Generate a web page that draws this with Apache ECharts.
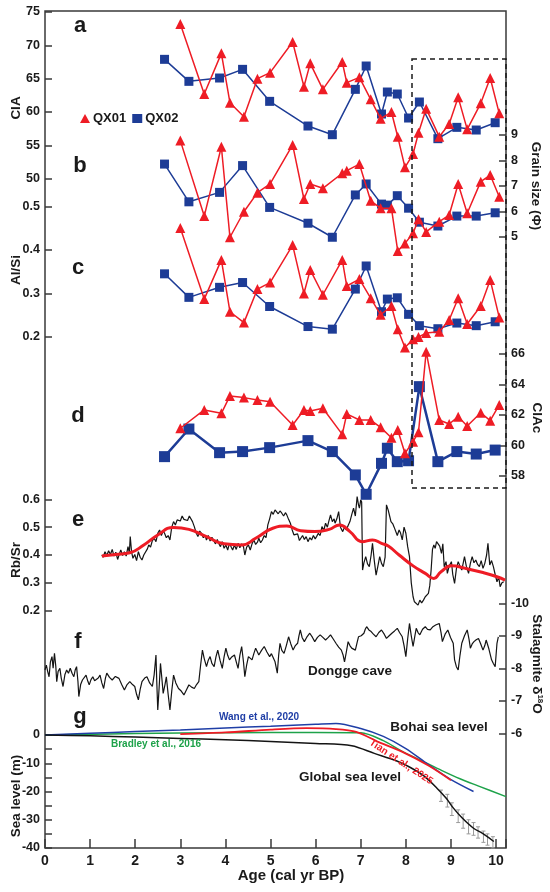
<!DOCTYPE html>
<html lang="en">
<head>
<meta charset="UTF-8">
<title>Holocene proxy records</title>
<script src="https://cdn.jsdelivr.net/npm/echarts@6/dist/echarts.min.js"></script>
<style>
  html, body { margin: 0; padding: 0; background: #fff; }
</style>
</head>
<body>
<div id="main" style="width:550px;height:892px;"></div>
<script>
// sample ages (cal kyr BP) of the two cores
var ageQX01 = [3.00, 3.53, 3.91, 4.10, 4.41, 4.71, 4.99, 5.49, 5.74, 5.88, 6.16, 6.59, 6.69, 6.97, 7.22, 7.44, 7.68, 7.82, 7.98, 8.16, 8.28, 8.45, 8.74, 8.96, 9.16, 9.36, 9.66, 9.87, 10.07];
var ageQX02 = [2.65, 3.19, 3.87, 4.38, 4.98, 5.83, 6.37, 6.88, 7.12, 7.46, 7.59, 7.81, 8.06, 8.30, 8.71, 9.13, 9.56, 9.98];

// a: CIA
var ciaQX01 = [73.2, 62.7, 68.8, 61.4, 59.3, 65.0, 65.9, 70.5, 63.8, 67.3, 63.4, 67.5, 64.4, 65.2, 61.9, 59.0, 60.0, 56.3, 51.7, 53.7, 56.9, 60.5, 56.3, 58.2, 62.2, 57.4, 61.3, 65.1, 59.8];
var ciaQX02 = [67.9, 64.6, 65.1, 66.4, 61.6, 57.9, 56.6, 63.4, 66.9, 59.7, 63.0, 62.7, 59.1, 61.5, 56.0, 57.7, 57.3, 58.4];
// b: grain size (phi)
var grainQX01 = [8.78, 5.82, 8.54, 4.99, 5.99, 6.74, 7.08, 8.61, 6.49, 7.08, 6.91, 7.50, 7.60, 7.86, 6.42, 6.13, 6.13, 4.45, 4.75, 5.15, 5.70, 5.20, 5.60, 5.86, 7.08, 5.93, 7.17, 7.43, 6.58];
var grainQX02 = [7.86, 6.38, 6.75, 7.80, 6.16, 5.54, 4.99, 6.65, 7.08, 6.29, 6.25, 6.62, 6.13, 5.58, 5.43, 5.82, 5.82, 5.95];
// c: Al/Si
var alsiQX01 = [0.450, 0.287, 0.377, 0.258, 0.233, 0.310, 0.325, 0.411, 0.300, 0.354, 0.297, 0.377, 0.317, 0.333, 0.289, 0.251, 0.271, 0.218, 0.176, 0.195, 0.200, 0.209, 0.212, 0.239, 0.289, 0.230, 0.271, 0.331, 0.245];
var alsiQX02 = [0.345, 0.291, 0.314, 0.325, 0.270, 0.224, 0.218, 0.310, 0.363, 0.258, 0.287, 0.290, 0.252, 0.226, 0.219, 0.232, 0.226, 0.235];
// d: CIAc
var ciacQX01 = [61.13, 62.33, 62.11, 63.25, 63.14, 62.98, 62.87, 61.34, 62.33, 62.26, 62.44, 60.73, 62.07, 61.67, 61.67, 61.19, 60.51, 61.02, 59.49, 60.25, 60.87, 66.15, 61.67, 61.41, 61.89, 61.28, 62.15, 61.63, 62.66];
var ciacQX02 = [59.27, 61.08, 59.53, 59.60, 59.86, 60.32, 59.60, 58.07, 56.80, 58.83, 59.82, 58.94, 59.00, 63.86, 58.94, 59.60, 59.44, 59.70];

// e: Rb/Sr
var rbsrAge = [1.26, 1.29, 1.33, 1.37, 1.41, 1.45, 1.49, 1.53, 1.57, 1.61, 1.65, 1.68, 1.72, 1.76, 1.80, 1.84, 1.87, 1.89, 1.92, 1.95, 1.99, 2.03, 2.07, 2.11, 2.15, 2.19, 2.23, 2.27, 2.30, 2.34, 2.38, 2.42, 2.46, 2.50, 2.54, 2.58, 2.62, 2.65, 2.69, 2.73, 2.77, 2.81, 2.85, 2.89, 2.93, 2.96, 3.00, 3.04, 3.08, 3.12, 3.16, 3.20, 3.23, 3.27, 3.31, 3.35, 3.39, 3.43, 3.47, 3.51, 3.55, 3.58, 3.62, 3.66, 3.70, 3.74, 3.78, 3.82, 3.85, 3.89, 3.93, 3.97, 4.01, 4.05, 4.09, 4.13, 4.16, 4.20, 4.24, 4.28, 4.32, 4.36, 4.40, 4.43, 4.47, 4.51, 4.55, 4.59, 4.63, 4.67, 4.71, 4.74, 4.78, 4.82, 4.86, 4.90, 4.94, 4.98, 5.02, 5.06, 5.10, 5.13, 5.17, 5.21, 5.25, 5.29, 5.33, 5.36, 5.40, 5.44, 5.48, 5.52, 5.56, 5.60, 5.64, 5.67, 5.71, 5.75, 5.79, 5.83, 5.87, 5.91, 5.95, 5.99, 6.02, 6.06, 6.10, 6.14, 6.18, 6.22, 6.26, 6.29, 6.33, 6.37, 6.41, 6.43, 6.47, 6.51, 6.55, 6.60, 6.64, 6.68, 6.72, 6.76, 6.80, 6.84, 6.88, 6.92, 6.95, 6.97, 7.00, 7.02, 7.04, 7.07, 7.11, 7.15, 7.19, 7.23, 7.26, 7.30, 7.34, 7.38, 7.42, 7.46, 7.50, 7.54, 7.57, 7.61, 7.64, 7.67, 7.71, 7.74, 7.77, 7.81, 7.85, 7.88, 7.92, 7.96, 8.00, 8.04, 8.08, 8.12, 8.16, 8.19, 8.23, 8.27, 8.31, 8.35, 8.39, 8.43, 8.47, 8.50, 8.53, 8.56, 8.59, 8.62, 8.65, 8.68, 8.71, 8.75, 8.79, 8.82, 8.85, 8.89, 8.92, 8.96, 9.01, 9.04, 9.08, 9.12, 9.16, 9.20, 9.24, 9.27, 9.30, 9.34, 9.39, 9.43, 9.47, 9.51, 9.55, 9.59, 9.63, 9.67, 9.71, 9.75, 9.79, 9.82, 9.86, 9.90, 9.94, 9.98, 10.02, 10.06, 10.09, 10.13, 10.17];
var rbsrVal = [0.400, 0.392, 0.412, 0.398, 0.415, 0.402, 0.420, 0.396, 0.410, 0.384, 0.405, 0.418, 0.398, 0.412, 0.396, 0.430, 0.408, 0.466, 0.410, 0.388, 0.402, 0.380, 0.412, 0.392, 0.382, 0.400, 0.406, 0.422, 0.436, 0.428, 0.452, 0.460, 0.448, 0.478, 0.490, 0.470, 0.486, 0.478, 0.462, 0.470, 0.454, 0.500, 0.520, 0.508, 0.526, 0.532, 0.522, 0.540, 0.528, 0.535, 0.524, 0.540, 0.538, 0.520, 0.502, 0.480, 0.466, 0.486, 0.478, 0.462, 0.470, 0.454, 0.470, 0.450, 0.464, 0.460, 0.440, 0.456, 0.442, 0.430, 0.448, 0.424, 0.436, 0.418, 0.442, 0.428, 0.418, 0.436, 0.420, 0.442, 0.426, 0.440, 0.430, 0.400, 0.428, 0.436, 0.418, 0.440, 0.454, 0.438, 0.446, 0.460, 0.444, 0.454, 0.470, 0.462, 0.508, 0.530, 0.556, 0.546, 0.562, 0.559, 0.548, 0.558, 0.550, 0.540, 0.552, 0.544, 0.528, 0.514, 0.490, 0.472, 0.466, 0.476, 0.452, 0.454, 0.470, 0.456, 0.466, 0.448, 0.462, 0.454, 0.470, 0.458, 0.466, 0.478, 0.470, 0.502, 0.488, 0.514, 0.500, 0.520, 0.544, 0.520, 0.530, 0.514, 0.530, 0.556, 0.500, 0.484, 0.500, 0.490, 0.506, 0.520, 0.545, 0.568, 0.540, 0.610, 0.580, 0.568, 0.598, 0.590, 0.346, 0.372, 0.394, 0.368, 0.358, 0.400, 0.442, 0.380, 0.328, 0.360, 0.394, 0.370, 0.358, 0.392, 0.580, 0.560, 0.540, 0.520, 0.512, 0.500, 0.502, 0.470, 0.490, 0.480, 0.454, 0.500, 0.478, 0.430, 0.394, 0.300, 0.250, 0.232, 0.228, 0.220, 0.238, 0.228, 0.238, 0.250, 0.244, 0.262, 0.290, 0.346, 0.420, 0.436, 0.424, 0.448, 0.454, 0.432, 0.406, 0.440, 0.358, 0.376, 0.334, 0.360, 0.376, 0.330, 0.298, 0.350, 0.376, 0.360, 0.346, 0.370, 0.394, 0.360, 0.334, 0.370, 0.394, 0.372, 0.382, 0.366, 0.358, 0.380, 0.352, 0.370, 0.400, 0.442, 0.364, 0.380, 0.358, 0.330, 0.304, 0.320, 0.286, 0.300, 0.304];
var rbsrSmoothAge = [1.26, 1.57, 1.88, 2.19, 2.50, 2.85, 3.19, 3.58, 3.97, 4.36, 4.67, 5.05, 5.36, 5.67, 5.98, 6.30, 6.53, 6.76, 7.03, 7.26, 7.46, 7.61, 7.85, 8.16, 8.43, 8.62, 8.78, 9.01, 9.32, 9.71, 10.02, 10.20];
var rbsrSmoothVal = [0.396, 0.402, 0.408, 0.436, 0.472, 0.499, 0.492, 0.466, 0.440, 0.436, 0.460, 0.496, 0.504, 0.487, 0.484, 0.492, 0.508, 0.484, 0.448, 0.454, 0.442, 0.432, 0.400, 0.361, 0.334, 0.316, 0.340, 0.361, 0.352, 0.337, 0.322, 0.310];

// f: Dongge cave stalagmite d18O
var dgAge = [0.00, 0.03, 0.06, 0.09, 0.12, 0.155, 0.18, 0.21, 0.24, 0.26, 0.29, 0.33, 0.36, 0.40, 0.44, 0.48, 0.52, 0.56, 0.60, 0.64, 0.67, 0.70, 0.73, 0.75, 0.79, 0.83, 0.87, 0.91, 0.95, 0.98, 1.02, 1.06, 1.10, 1.14, 1.18, 1.22, 1.26, 1.30, 1.34, 1.37, 1.43, 1.49, 1.56, 1.64, 1.70, 1.76, 1.82, 1.88, 1.94, 1.99, 2.03, 2.07, 2.11, 2.15, 2.21, 2.26, 2.32, 2.38, 2.42, 2.46, 2.48, 2.50, 2.53, 2.56, 2.59, 2.62, 2.66, 2.69, 2.73, 2.77, 2.81, 2.85, 2.90, 2.96, 3.02, 3.08, 3.14, 3.19, 3.25, 3.31, 3.36, 3.41, 3.45, 3.49, 3.53, 3.58, 3.62, 3.66, 3.70, 3.75, 3.79, 3.83, 3.88, 3.93, 3.97, 4.01, 4.05, 4.09, 4.14, 4.20, 4.24, 4.28, 4.32, 4.36, 4.40, 4.43, 4.47, 4.51, 4.55, 4.59, 4.63, 4.67, 4.71, 4.74, 4.80, 4.86, 4.92, 4.98, 5.02, 5.05, 5.10, 5.15, 5.18, 5.21, 5.25, 5.30, 5.35, 5.40, 5.45, 5.50, 5.55, 5.60, 5.63, 5.66, 5.70, 5.75, 5.80, 5.87, 5.93, 5.98, 6.04, 6.10, 6.16, 6.22, 6.28, 6.33, 6.39, 6.45, 6.51, 6.57, 6.61, 6.64, 6.68, 6.72, 6.76, 6.80, 6.84, 6.88, 6.92, 6.95, 7.01, 7.07, 7.10, 7.13, 7.18, 7.23, 7.28, 7.34, 7.40, 7.46, 7.52, 7.57, 7.63, 7.69, 7.75, 7.81, 7.86, 7.92, 7.96, 8.00, 8.04, 8.08, 8.12, 8.16, 8.20, 8.23, 8.27, 8.31, 8.37, 8.43, 8.48, 8.54, 8.60, 8.66, 8.70, 8.74, 8.78, 8.81, 8.87, 8.93, 8.99, 9.05, 9.08, 9.12, 9.16, 9.20, 9.24, 9.30, 9.36, 9.40, 9.43, 9.47, 9.51, 9.56, 9.61, 9.66, 9.71, 9.75, 9.78, 9.84, 9.90, 9.94, 9.98, 10.02, 10.05];
var dgVal = [-7.95, -8.10, -7.90, -7.74, -8.20, -8.36, -8.00, -8.46, -8.05, -7.59, -7.90, -8.00, -7.70, -7.44, -7.80, -7.95, -7.85, -8.00, -7.85, -7.74, -7.95, -8.05, -7.60, -7.13, -7.50, -7.64, -7.70, -7.79, -7.60, -7.49, -7.65, -7.74, -7.62, -7.59, -7.70, -7.79, -7.55, -7.38, -7.70, -7.85, -7.72, -7.64, -7.75, -7.69, -7.50, -7.33, -7.50, -7.59, -7.50, -7.44, -7.20, -7.03, -7.35, -7.59, -7.70, -7.74, -7.55, -7.44, -7.80, -8.41, -7.50, -6.72, -7.40, -8.15, -7.70, -7.23, -7.50, -7.74, -7.20, -6.72, -7.30, -7.79, -7.55, -7.38, -7.30, -7.18, -7.35, -7.49, -7.42, -7.38, -7.50, -7.59, -8.10, -8.56, -8.30, -8.05, -8.25, -8.36, -8.15, -8.05, -8.35, -8.56, -8.25, -8.00, -8.35, -8.62, -8.40, -8.26, -8.35, -8.41, -8.20, -8.00, -8.40, -8.67, -8.20, -7.74, -8.10, -8.36, -8.30, -8.26, -8.45, -8.62, -8.50, -8.41, -8.55, -8.67, -8.50, -8.36, -8.45, -8.51, -8.20, -7.85, -8.40, -8.77, -8.55, -8.46, -8.70, -8.97, -8.75, -8.56, -8.70, -8.77, -9.00, -9.18, -8.95, -8.82, -8.95, -9.08, -8.95, -8.82, -8.95, -9.03, -8.95, -8.87, -8.95, -9.03, -8.90, -8.77, -8.65, -8.56, -8.40, -8.20, -8.50, -8.82, -8.70, -8.62, -8.60, -8.56, -8.80, -8.97, -9.00, -9.08, -9.20, -9.28, -9.18, -9.13, -9.05, -8.97, -9.10, -9.18, -9.05, -8.92, -9.00, -9.08, -9.15, -9.23, -9.10, -8.97, -8.70, -8.36, -8.90, -9.38, -9.00, -8.67, -9.00, -9.23, -9.10, -9.03, -9.20, -9.28, -9.20, -9.18, -9.28, -9.33, -9.36, -9.38, -9.10, -8.82, -9.05, -9.18, -8.95, -8.77, -8.26, -8.05, -7.95, -8.40, -8.77, -9.00, -9.18, -8.90, -8.62, -8.75, -8.82, -8.88, -8.92, -8.75, -8.56, -8.70, -8.87, -8.60, -8.26, -8.15, -8.05, -8.77, -8.97];

// g: sea level (m)
var wangAge = [0, 1, 2, 3, 4, 5, 6, 6.45, 7.0, 7.5, 8.0, 8.5, 9.0, 9.5];
var wangVal = [0, 0.6, 1.2, 1.8, 2.5, 3.1, 3.8, 4.1, 2.3, -0.5, -4.8, -10.5, -15.8, -20];
var tianAge = [3.0, 4.0, 5.0, 5.8, 6.45, 6.9, 7.4, 7.9, 8.5, 9.0];
var tianVal = [0.3, 0.9, 1.9, 2.4, 2.1, 1.1, -2.5, -5.8, -10.8, -16.0];
var bradleyAge = [0, 2, 4, 6, 7.0, 7.5, 7.9, 8.4, 8.8, 9.2, 9.6, 10.22];
var bradleyVal = [0, 0.5, 0.8, 0.9, 0.8, -2.0, -5.6, -9.5, -12.6, -15.5, -18.0, -21.8];
var globalAge = [0, 1, 2, 3, 4, 5, 6, 6.8, 7.3, 7.8, 8.1, 8.4, 8.7, 8.9, 9.05, 9.25, 9.5, 9.7, 9.95];
var globalVal = [0, -0.3, -0.7, -1.2, -1.7, -2.3, -3.0, -3.8, -6.5, -9.2, -11.5, -14.5, -19.0, -22.5, -25.8, -29.4, -33.0, -34.8, -37.7];
var errAge = [8.78, 8.92, 9.02, 9.16, 9.27, 9.39, 9.50, 9.60, 9.72, 9.81, 9.93];
var errLow = [-23.5, -25.5, -28.5, -31.0, -33.0, -35.0, -35.5, -36.5, -38.0, -39.0, -40.0];
var errHigh = [-19.5, -21.0, -24.0, -26.5, -28.0, -30.0, -31.0, -32.5, -34.0, -35.0, -36.0];

var RED = '#ee1c25', BLUE = '#1d3c96', FONT = '"Liberation Sans", Arial, sans-serif';

function zip(xs, ys) { return xs.map(function (x, i) { return [x, ys[i]]; }); }

var myChart = echarts.init(document.getElementById('main'));

// panel frames: [top, height, min, max, interval, side, inverse]
var panels = [
  [11, 837, 0, 1, 1, 'left', false],          // master frame
  [12, 166.7, 50, 75, 5, 'left', false],      // a CIA
  [135, 102, 5, 9, 1, 'right', false],        // b grain size
  [206.3, 130.7, 0.2, 0.5, 0.1, 'left', false], // c Al/Si
  [354, 122, 58, 66, 2, 'right', false],      // d CIAc
  [499.3, 111.4, 0.2, 0.6, 0.1, 'left', false], // e Rb/Sr
  [603.3, 130, -10, -6, 1, 'right', true],    // f d18O
  [735, 113, -40, 0, 10, 'left', false]       // g sea level
];

var grids = [], xAxes = [], yAxes = [];
panels.forEach(function (p, i) {
  grids.push({ left: 45, width: 461, top: p[0], height: p[1],
    show: i === 0, borderColor: '#3a3a3a', borderWidth: 1.5, backgroundColor: 'transparent' });
  xAxes.push({
    type: 'value', gridIndex: i, min: 0, max: 10.22, interval: 1, show: i === 0,
    axisLine: { show: false, onZero: false },
    axisTick: { show: true, inside: true, length: 9, lineStyle: { color: '#3a3a3a', width: 1.5 } },
    axisLabel: { margin: 6, color: '#1a1a1a', fontWeight: 'bold', fontSize: 14, fontFamily: FONT,
      formatter: function (v) { return Math.abs(v - Math.round(v)) < 1e-6 ? String(Math.round(v)) : ''; } },
    splitLine: { show: false }
  });
  yAxes.push({
    type: 'value', gridIndex: i, min: p[2], max: p[3], interval: p[4], position: p[5], inverse: p[6],
    show: i !== 0,
    axisLine: { show: false, onZero: false },
    axisTick: { show: true, inside: true, length: 7, lineStyle: { color: '#3a3a3a', width: 1.5 } },
    minorTick: { show: i === 7, splitNumber: 2, length: 7, lineStyle: { color: '#3a3a3a', width: 1.5 } },
    axisLabel: { margin: 5, color: '#1a1a1a', fontWeight: 'bold', fontSize: 12.5, fontFamily: FONT,
      formatter: function (v) { return i === 3 || i === 5 ? v.toFixed(1) : String(v); } },
    splitLine: { show: false }
  });
});

function proxy(name, gi, ages, vals, color, symbol, size, width) {
  return { name: name, type: 'line', xAxisIndex: gi, yAxisIndex: gi, data: zip(ages, vals),
    symbol: symbol, symbolSize: size, clip: false, z: name === 'QX01' ? 3 : 2,
    lineStyle: { color: color, width: width }, itemStyle: { color: color }, emphasis: { disabled: true } };
}
function trace(gi, ages, vals, color, width, smooth) {
  return { type: 'line', xAxisIndex: gi, yAxisIndex: gi, data: zip(ages, vals), symbol: 'none',
    clip: false, smooth: smooth || false, lineStyle: { color: color, width: width }, emphasis: { disabled: true } };
}

var series = [
  proxy('QX02', 1, ageQX02, ciaQX02, BLUE, 'rect', 9, 1.5),
  proxy('QX01', 1, ageQX01, ciaQX01, RED, 'triangle', 10, 1.5),
  proxy('QX02', 2, ageQX02, grainQX02, BLUE, 'rect', 9, 1.5),
  proxy('QX01', 2, ageQX01, grainQX01, RED, 'triangle', 10, 1.5),
  proxy('QX02', 3, ageQX02, alsiQX02, BLUE, 'rect', 9, 1.5),
  proxy('QX01', 3, ageQX01, alsiQX01, RED, 'triangle', 10, 1.5),
  proxy('QX02', 4, ageQX02, ciacQX02, BLUE, 'rect', 11, 2.5),
  proxy('QX01', 4, ageQX01, ciacQX01, RED, 'triangle', 10, 1.5),
  trace(5, rbsrAge, rbsrVal, '#141414', 1.2),
  trace(5, rbsrSmoothAge, rbsrSmoothVal, RED, 3, 0.5),
  trace(6, dgAge, dgVal, '#141414', 1.2),
  trace(7, bradleyAge, bradleyVal, '#1ea24a', 1.5, 0.3),
  trace(7, wangAge, wangVal, '#1f3ea6', 1.5, 0.3),
  trace(7, tianAge, tianVal, RED, 1.8, 0.3),
  {
    type: 'custom', xAxisIndex: 7, yAxisIndex: 7, clip: false,
    data: errAge.map(function (a, i) { return [a, errLow[i], errHigh[i]]; }),
    encode: { x: 0, y: [1, 2] },
    renderItem: function (params, api) {
      var lo = api.coord([api.value(0), api.value(1)]);
      var hi = api.coord([api.value(0), api.value(2)]);
      var st = { stroke: '#9a9a9a', lineWidth: 1 };
      return { type: 'group', children: [
        { type: 'line', shape: { x1: lo[0], y1: lo[1], x2: hi[0], y2: hi[1] }, style: st },
        { type: 'line', shape: { x1: lo[0] - 2, y1: lo[1], x2: lo[0] + 2, y2: lo[1] }, style: st },
        { type: 'line', shape: { x1: hi[0] - 2, y1: hi[1], x2: hi[0] + 2, y2: hi[1] }, style: st }
      ] };
    }
  },
  trace(7, globalAge, globalVal, '#141414', 1.5, 0.3)
];

function txt(s, x, y, size, color, rot, extra) {
  var o = { type: 'text', x: x, y: y, rotation: rot || 0, z: 100,
    style: { text: s, fill: color || '#1a1a1a', font: 'bold ' + size + 'px ' + FONT,
      textAlign: 'center', textVerticalAlign: 'middle' } };
  if (extra) o.style.rich = extra;
  return o;
}

var graphic = [
  // dashed box around the 8.2-10 ka interval
  { type: 'rect', z: 90, shape: { x: 412, y: 59, width: 94, height: 429 },
    style: { fill: 'none', stroke: '#1a1a1a', lineWidth: 1.5, lineDash: [5, 4] } },
  txt('a', 80, 26, 22), txt('b', 80, 166, 22), txt('c', 78, 268, 22), txt('d', 78, 416, 22),
  txt('e', 78, 520, 22), txt('f', 78, 642, 22), txt('g', 80, 717, 22),
  txt('CIA', 16, 108, 13.5, null, Math.PI / 2),
  txt('Al/Si', 16, 270, 13.5, null, Math.PI / 2),
  txt('Rb/Sr', 16, 560, 13.5, null, Math.PI / 2),
  txt('Sea level (m)', 16, 796, 13.5, null, Math.PI / 2),
  txt('Grain size (\u03A6)', 536, 186, 13.5, null, -Math.PI / 2),
  txt('CIAc', 537, 418, 13.5, null, -Math.PI / 2),
  txt('{n|Stalagmite \u03B4}{s|18}{n|O}', 537, 664, 13.5, null, -Math.PI / 2,
    { n: { font: 'bold 13.5px ' + FONT, fill: '#1a1a1a' }, s: { font: 'bold 8px ' + FONT, fill: '#1a1a1a', verticalAlign: 'top', padding: [0, 0, 6, 0] } }),
  txt('Age (cal yr BP)', 291, 876, 15),
  txt('Dongge cave', 350, 671, 13.5),
  txt('Wang et al., 2020', 259, 717, 10, '#1f3ea6'),
  txt('Bohai sea level', 439, 727, 13.5),
  txt('Bradley et al., 2016', 156, 744, 10, '#1ea24a'),
  txt('Tian et al., 2025', 401, 762, 10, RED, -0.58),
  txt('Global sea level', 350, 777, 13.5)
];

var option = {
  animation: false,
  grid: grids,
  xAxis: xAxes,
  yAxis: yAxes,
  legend: {
    left: 75, top: 107, itemWidth: 10, itemHeight: 9, itemGap: 6, selectedMode: false,
    textStyle: { color: '#1a1a1a', fontWeight: 'bold', fontSize: 13, fontFamily: FONT, padding: [0, 0, 0, -2] },
    data: [{ name: 'QX01', icon: 'triangle', itemStyle: { color: RED } },
           { name: 'QX02', icon: 'rect', itemStyle: { color: BLUE } }]
  },
  series: series,
  graphic: graphic
};

myChart.setOption(option);
</script>
</body>
</html>
